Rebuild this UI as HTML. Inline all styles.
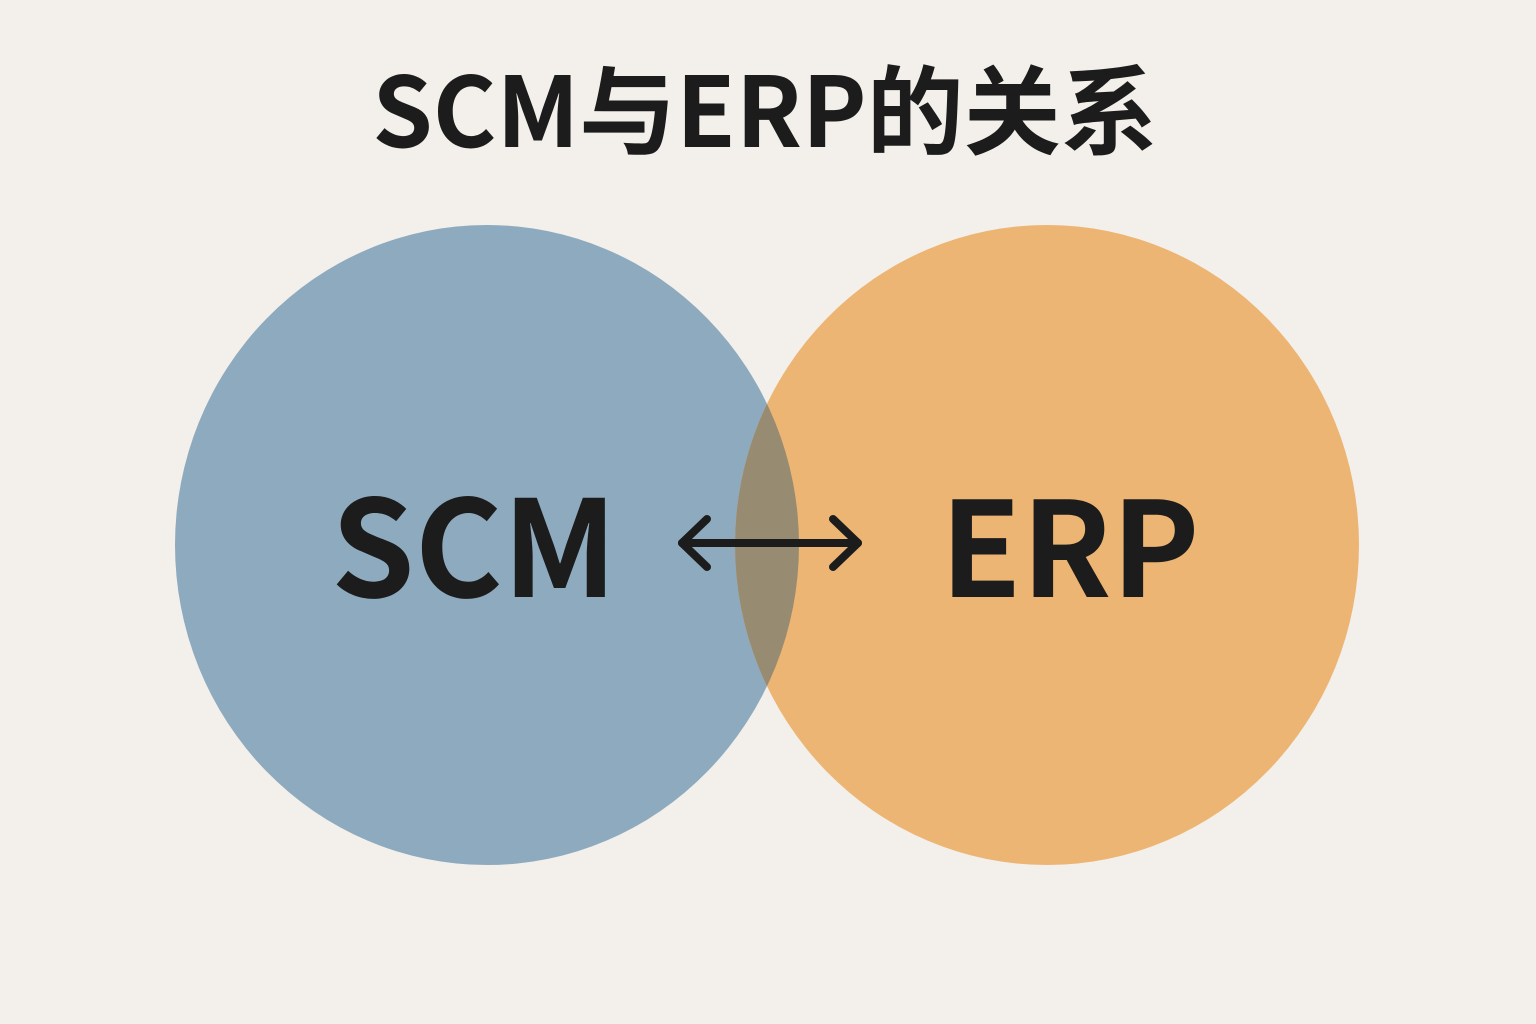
<!DOCTYPE html>
<html>
<head>
<meta charset="utf-8">
<style>
  html, body { margin:0; padding:0; }
  body { width:1536px; height:1024px; background:#f3f0eb; overflow:hidden; }
  svg { display:block; }
</style>
</head>
<body>
<svg width="1536" height="1024" viewBox="0 0 1536 1024" xmlns="http://www.w3.org/2000/svg">
  <rect width="1536" height="1024" fill="#f3f0eb"/>
  <defs>
    <clipPath id="leftClip">
      <ellipse cx="487" cy="545" rx="312" ry="320"/>
    </clipPath>
  </defs>
  <ellipse cx="487" cy="545" rx="312" ry="320" fill="#8eaabe"/>
  <ellipse cx="1047" cy="545" rx="312" ry="320" fill="#edb573"/>
  <ellipse cx="1047" cy="545" rx="312" ry="320" fill="#978b71" clip-path="url(#leftClip)"/>

  <text x="765" y="147" text-anchor="middle" font-family="'Noto Sans CJK SC', 'Liberation Sans', sans-serif" font-weight="700" font-size="97" fill="#1c1c1c">SCM与ERP的关系</text>

  <text x="474" y="597" text-anchor="middle" font-family="'Noto Sans CJK SC', 'Liberation Sans', sans-serif" font-weight="700" font-size="134" fill="#1c1c1c">SCM</text>
  <text x="1070" y="597" text-anchor="middle" font-family="'Noto Sans CJK SC', 'Liberation Sans', sans-serif" font-weight="700" font-size="132" fill="#1c1c1c">ERP</text>

  <g stroke="#1c1c1c" stroke-width="8" stroke-linecap="round" stroke-linejoin="round" fill="none">
    <line x1="682" y1="543" x2="858" y2="543"/>
    <polyline points="707,519 682,543 707,567"/>
    <polyline points="833,519 858,543 833,567"/>
  </g>
</svg>
</body>
</html>
